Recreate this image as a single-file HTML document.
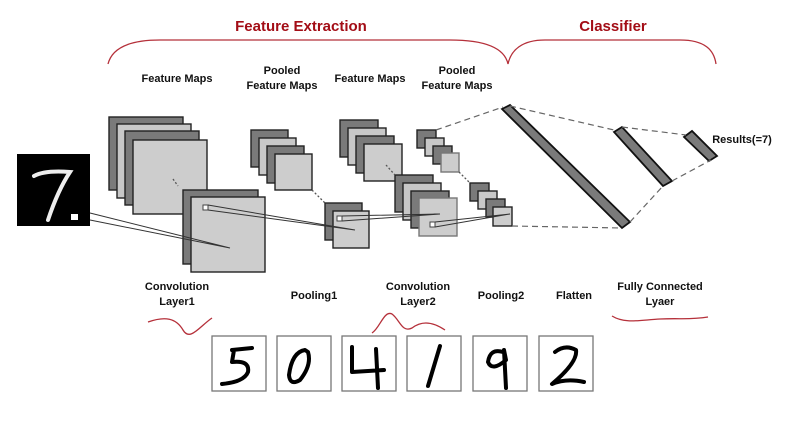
<!DOCTYPE html>
<html><head><meta charset="utf-8"><style>
html,body{margin:0;padding:0;background:#fff;}
svg{display:block;}
text{font-family:"Liberation Sans",sans-serif;font-weight:bold;}
</style></head><body>
<svg width="792" height="422" viewBox="0 0 792 422" xmlns="http://www.w3.org/2000/svg">
<g fill="#a30d16" font-size="15" text-anchor="middle">
<text x="301" y="31">Feature Extraction</text>
<text x="613" y="31">Classifier</text>
</g>
<g fill="none" stroke="#b5303a" stroke-width="1.3">
<path d="M108,64 C112,48 130,40 160,40 L450,40 C490,40 505,50 508,64 C511,50 522,40 545,40 L680,40 C705,40 714,50 716,64"/>
<path d="M148,322 C165,316 176,318 183,330 C190,342 200,326 212,318"/>
<path d="M372,333 C380,328 384,310 392,314 C400,320 402,333 412,328 C420,322 430,320 445,330"/>
<path d="M612,316 C625,324 640,320 660,319 C680,318 690,320 708,317"/>
</g>
<g fill="#111" font-size="11" text-anchor="middle">
<text x="177" y="82">Feature Maps</text>
<text x="282" y="74">Pooled</text><text x="282" y="89">Feature Maps</text>
<text x="370" y="82">Feature Maps</text>
<text x="457" y="74">Pooled</text><text x="457" y="89">Feature Maps</text>
<text x="177" y="290">Convolution</text><text x="177" y="305">Layer1</text>
<text x="314" y="299">Pooling1</text>
<text x="418" y="290">Convolution</text><text x="418" y="305">Layer2</text>
<text x="501" y="299">Pooling2</text>
<text x="574" y="299">Flatten</text>
<text x="660" y="290">Fully Connected</text><text x="660" y="305">Lyaer</text>
<text x="742" y="143">Results(=7)</text>
</g>
<rect x="17" y="154" width="73" height="72" fill="#000"/>
<path d="M34,176 Q45,170 70,172 Q58,190 48,220" fill="none" stroke="#eee" stroke-width="4" stroke-linecap="round"/>
<rect x="71" y="214" width="7" height="6" fill="#fff"/>
<g stroke="#222" stroke-width="1.4">
<rect x="109" y="117" width="74" height="73" fill="#7a7a7a"/>
<rect x="117" y="124" width="74" height="74" fill="#c8c8c8"/>
<rect x="125" y="131" width="74" height="74" fill="#7a7a7a"/>
<rect x="133" y="140" width="74" height="74" fill="#cdcdcd"/>
<rect x="183" y="190" width="75" height="74" fill="#7a7a7a"/>
<rect x="191" y="197" width="74" height="75" fill="#cdcdcd"/>
<rect x="251" y="130" width="37" height="37" fill="#7a7a7a"/>
<rect x="259" y="138" width="37" height="37" fill="#c8c8c8"/>
<rect x="267" y="146" width="37" height="37" fill="#7a7a7a"/>
<rect x="275" y="154" width="37" height="36" fill="#cdcdcd"/>
<rect x="325" y="203" width="37" height="37" fill="#7a7a7a"/>
<rect x="333" y="211" width="36" height="37" fill="#cdcdcd"/>
<rect x="340" y="120" width="38" height="37" fill="#7a7a7a"/>
<rect x="348" y="128" width="38" height="37" fill="#c8c8c8"/>
<rect x="356" y="136" width="38" height="37" fill="#7a7a7a"/>
<rect x="364" y="144" width="38" height="37" fill="#cdcdcd"/>
<rect x="395" y="175" width="38" height="37" fill="#7a7a7a"/>
<rect x="403" y="183" width="38" height="37" fill="#c8c8c8"/>
<rect x="411" y="191" width="38" height="37" fill="#7a7a7a"/>
<rect x="419" y="198" width="38" height="38" fill="#cdcdcd" stroke="#777"/>
<rect x="417" y="130" width="19" height="18" fill="#7a7a7a"/>
<rect x="425" y="138" width="19" height="18" fill="#c8c8c8"/>
<rect x="433" y="146" width="19" height="18" fill="#7a7a7a"/>
<rect x="441" y="153" width="18" height="19" fill="#cdcdcd" stroke="#777"/>
<rect x="470" y="183" width="19" height="18" fill="#7a7a7a"/>
<rect x="478" y="191" width="19" height="18" fill="#c8c8c8"/>
<rect x="486" y="199" width="19" height="18" fill="#7a7a7a"/>
<rect x="493" y="207" width="19" height="19" fill="#cdcdcd"/>
</g>
<g stroke="#111" stroke-width="1.8" fill="#7a7a7a">
<polygon points="502,109 510,105 630,222 622,228"/>
<polygon points="614,132 622,127 672,181 663,186"/>
<polygon points="684,137 692,131 717,156 709,161"/>
</g>
<g fill="#fff" stroke="#444" stroke-width="1">
<rect x="203" y="205" width="5" height="5"/>
<rect x="337" y="216" width="5" height="5"/>
<rect x="430" y="222" width="5" height="5"/>
</g>
<g stroke="#333" stroke-width="1" fill="none">
<path d="M90,213 L230,248 M90,220 L230,248"/>
<path d="M208,205 L355,230 M208,210 L355,230"/>
<path d="M342,216 L440,214 M342,221 L440,214"/>
<path d="M435,222 L510,214 M435,227 L510,214"/>
</g>
<g stroke="#555" stroke-width="1.3" stroke-dasharray="2,2" fill="none">
<path d="M173,179 L178,186"/><path d="M312,190 L325,203"/>
<path d="M386,165 L395,175"/><path d="M459,172 L470,183"/>
</g>
<g stroke="#666" stroke-width="1.2" stroke-dasharray="6,4" fill="none">
<path d="M436,130 L503,107"/><path d="M512,226 L622,228"/>
<path d="M510,106 L614,130"/><path d="M630,222 L663,186"/>
<path d="M622,127 L686,135"/><path d="M672,181 L711,160"/>
</g>
<g fill="#fff" stroke="#777" stroke-width="1.3">
<rect x="212" y="336" width="54" height="55"/>
<rect x="277" y="336" width="54" height="55"/>
<rect x="342" y="336" width="54" height="55"/>
<rect x="407" y="336" width="54" height="55"/>
<rect x="473" y="336" width="54" height="55"/>
<rect x="539" y="336" width="54" height="55"/>
</g>
<g fill="none" stroke="#000" stroke-width="4" stroke-linecap="round" stroke-linejoin="round">
<path d="M232,350 L252,348 M234,350 L232,362 Q250,360 248,372 Q244,382 222,384"/>
<path d="M305,350 Q292,352 289,375 Q290,386 300,380 Q312,365 308,352 Z"/>
<path d="M352,347 L352,372 L384,370 M376,349 L378,388"/>
<path d="M440,346 L428,386"/>
<path d="M503,352 Q490,348 488,362 Q492,372 506,360 L504,350 L506,388"/>
<path d="M555,352 Q565,344 576,350 Q578,362 552,384 Q566,378 584,382"/>
</g>
</svg>
</body></html>
